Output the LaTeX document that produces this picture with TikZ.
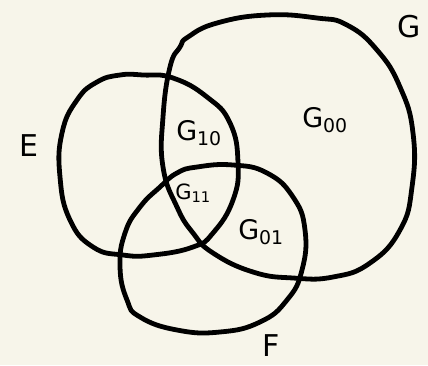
\documentclass[tikz,border=0pt]{standalone}
\usepackage{fontspec}
\setmainfont{DejaVu Sans}
\definecolor{bgcol}{HTML}{F7F5EA}
\begin{document}
\begin{tikzpicture}[x=1pt,y=-1pt,
  ring/.style={line width=4.8pt,line join=round,line cap=round,black},
  setlabel/.style={font=\fontsize{30}{30}\selectfont,inner sep=0pt},
  reglabel/.style={font=\fontsize{27}{27}\selectfont,inner sep=0pt}]
\fill[bgcol] (0,0) rectangle (428,365);
\useasboundingbox (0,0) rectangle (428,365);
% E
\draw[ring] plot[smooth cycle,tension=0.8] coordinates {
 (120,75) (143,75) (173,78) (207,97) (230,123) (238,163) (233,200) (213,233)
 (193,247) (153,255) (123,255) (93,247) (70,220) (60,177) (62,133) (77,100) (97,82)};
% G
\draw[ring] plot[smooth cycle,tension=0.8] coordinates {
 (188,37) (217,23) (267,15) (317,18) (347,25) (377,50) (400,87) (413,133)
 (412,187) (400,230) (370,263) (333,277) (293,278) (253,272) (213,253) (193,233)
 (177,207) (163,167) (163,117) (170,67) (180,47)};
% F
\draw[ring] plot[smooth cycle,tension=0.8] coordinates {
 (197,167) (233,165) (267,173) (293,197) (305,230) (302,270) (287,300) (260,322)
 (220,332) (177,330) (140,317) (127,300) (120,267) (125,233) (140,207) (160,187) (177,173)};
\node[setlabel] (lE) at (29,146) {E};
\node[setlabel] (lG) at (409,27) {G};
\node[setlabel] (lF) at (271,346) {F};
\node[reglabel] (g00) at (325,120) {G$_{\mathrm{00}}$};
\node[reglabel] (g10) at (199,133) {G$_{\mathrm{10}}$};
\node[font=\fontsize{21}{21}\selectfont,inner sep=0pt] (g11) at (193,193) {G$_{\mathrm{11}}$};
\node[reglabel] (g01) at (261,232) {G$_{\mathrm{01}}$};
\end{tikzpicture}
\end{document}
